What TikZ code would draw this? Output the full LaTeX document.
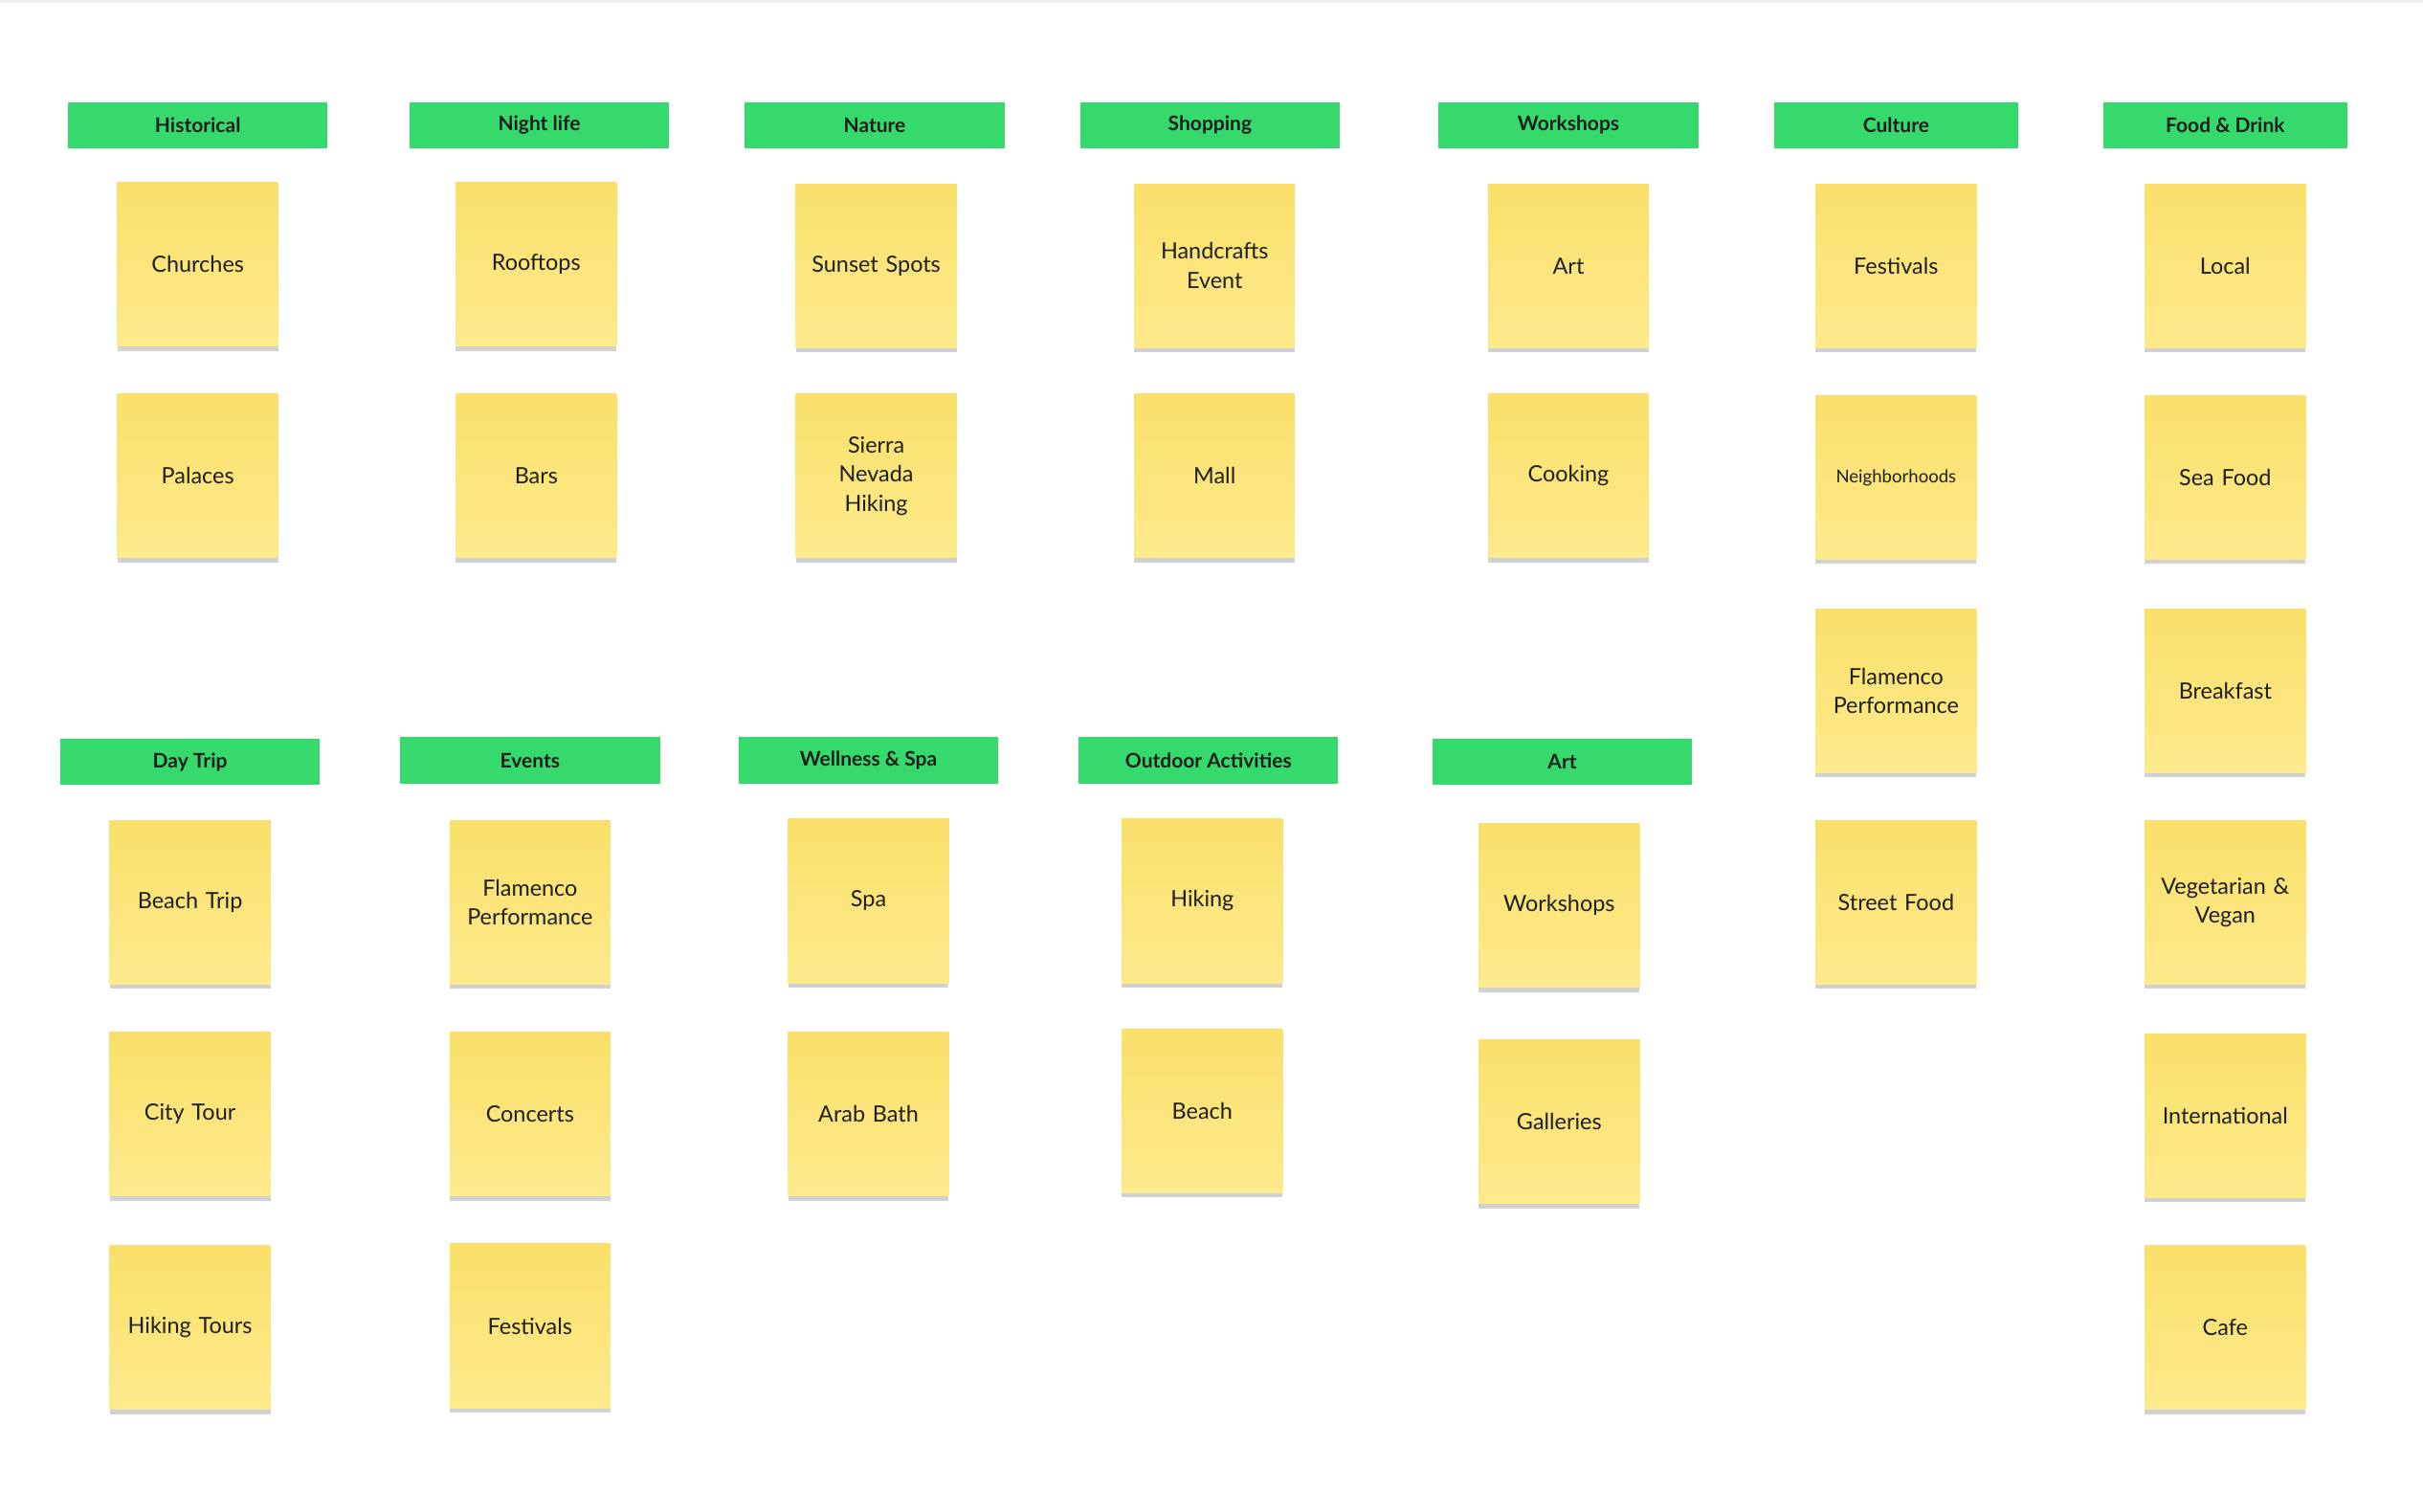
\documentclass[tikz,border=0pt]{standalone}
\usepackage{fontspec}
\setmainfont{Lato}
\usetikzlibrary{shadows}
\definecolor{hdr}{HTML}{36D96B}
\definecolor{stA}{HTML}{FAE06A}
\definecolor{stB}{HTML}{FDEA8C}
\definecolor{txt}{HTML}{1F1F1F}
\tikzset{
 hbox/.style={fill=hdr,minimum width=168pt,minimum height=30pt,inner sep=0pt,font=\fontsize{13}{15}\selectfont\bfseries,text=txt},
 sticky/.style={top color=stA,bottom color=stB,minimum width=104pt,minimum height=106pt,inner sep=2pt,text width=98pt,align=center,font=\fontsize{14.5}{19}\selectfont,text=txt,
   drop shadow={shadow xshift=0pt,shadow yshift=-3pt,opacity=0.18,fill=black}}
}
\begin{document}
\begin{tikzpicture}[x=1pt,y=-1pt]
\useasboundingbox[fill=white] (0,0) rectangle (1568,978);
\fill[gray!15] (0,0) rectangle (1568,2);
% headers
\foreach \x/\y/\w/\t [count=\i] in {128/81/168/Historical,349/81/168/Night life,566/81/168/Nature,783/81/168/Shopping,1015/81/168/Workshops,1227/81/158/Culture,1440/81/158/Food \& Drink,123/493/168/Day Trip,343/492/168/Events,562/492/168/Wellness \& Spa,782/492/168/Outdoor Activities,1011/493/168/Art}
  \node[hbox,minimum width=\w pt] (h\i) at (\x,\y) {\t};
% stickies
\foreach \x/\y/\t [count=\i] in {
 128/171/Churches,128/308/Palaces,
 347/171/Rooftops,347/308/Bars,
 567/172/Sunset Spots,567/308/{Sierra\\Nevada\\Hiking},
 786/172/{Handcrafts\\Event},786/308/Mall,
 1015/172/Art,1015/308/Cooking,
 1227/172/Festivals,1227/309/{\fontsize{11.5}{14}\selectfont Neighborhoods},1227/447/{Flamenco\\Performance},1227/584/Street Food,
 1440/172/Local,1440/309/Sea Food,1440/447/Breakfast,1440/584/{Vegetarian \&\\Vegan},1440/722/International,1440/859/Cafe,
 123/584/Beach Trip,123/721/City Tour,123/859/Hiking Tours,
 343/584/{Flamenco\\Performance},343/721/Concerts,343/858/Festivals,
 562/583/Spa,562/721/Arab Bath,
 778/583/Hiking,778/719/Beach,
 1009/586/Workshops,1009/726/Galleries}
  \node[sticky] (s\i) at (\x,\y) {\t};
\end{tikzpicture}
\end{document}
